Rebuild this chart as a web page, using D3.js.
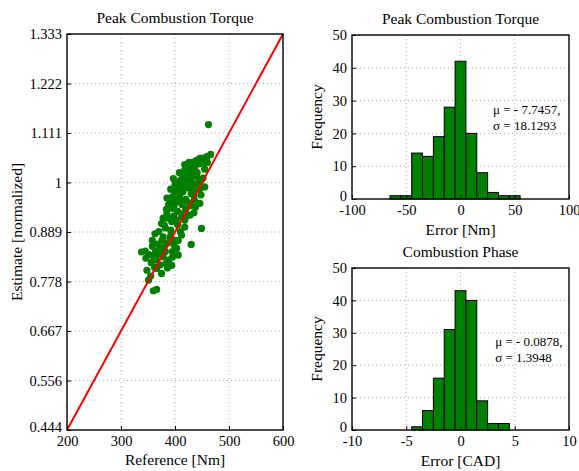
<!DOCTYPE html>
<html>
<head>
<meta charset="utf-8">
<script src="https://cdn.jsdelivr.net/npm/d3@7"></script>
<style>
  body { margin: 0; background: #fff; }
  text { font-family: "Liberation Serif", "Times New Roman", serif; fill: #000; }
  .domain { display: none; }
</style>
</head>
<body>
<div id="vis"></div>
<script>
// data
const REF_NM = [462,466,459,452,446,440,434,445,428,424,436,418,430,455,414,422,440,397,410,427,
  448,405,418,434,455,410,425,440,400,415,430,448,395,408,420,436,403,446,388,413,
  428,395,420,405,435,385,428,398,412,418,375,394,405,382,449,392,410,363,378,391,
  412,400,386,430,358,372,403,395,338,345,378,406,388,366,394,348,375,366,351,360,
  366,355,383,370,380,360,400,410,425,432,438,420,412,398,388,380,370,392,402,415,
  425,430,442,456,441,416,404,392,384,376,368,382,395,356,362,372,346,352,386,398,
  406,418,422,435,438,445,452,460,426,418,408,400,392,385,378,358,364];
const EST_NORM = [1.130,1.063,1.058,1.055,1.054,1.050,1.046,1.042,1.040,1.038,1.035,1.028,1.027,1.030,1.018,1.020,1.015,1.009,1.005,1.008,
  1.005,0.998,1.000,0.997,0.990,0.990,0.988,0.985,0.978,0.980,0.975,0.972,0.968,0.965,0.962,0.960,0.956,0.953,0.950,0.950,
  0.948,0.942,0.940,0.935,0.932,0.930,0.927,0.925,0.922,0.915,0.908,0.912,0.905,0.898,0.897,0.893,0.890,0.885,0.878,0.874,
  0.882,0.870,0.864,0.861,0.857,0.852,0.852,0.845,0.844,0.846,0.833,0.837,0.826,0.826,0.814,0.803,0.796,0.807,0.781,0.757,
  0.760,0.790,0.818,0.840,0.855,0.835,0.960,0.975,1.000,1.012,1.025,1.010,0.955,0.945,0.920,0.905,0.890,0.880,0.915,0.930,
  0.955,0.990,1.000,1.045,1.022,0.995,0.985,0.958,0.940,0.870,0.862,0.845,0.832,0.820,0.810,0.815,0.830,0.838,0.808,0.860,
  0.870,0.900,0.925,0.970,0.945,0.985,1.010,1.045,1.045,1.040,1.022,0.995,0.985,0.965,0.920,0.870,0.845];

const TORQUE_BINS = [-60,-50,-40,-30,-20,-10,0,10,20,30,40,50];
const TORQUE_COUNTS = [1,1,14,13,19,28,42,20,8,2,1,1];
const PHASE_BINS = [-4,-3,-2,-1,0,1,2,3,4];
const PHASE_COUNTS = [1,6,16,31,43,40,9,2,2];

const Y_TICKS = ["0.444","0.556","0.667","0.778","0.889","1","1.111","1.222","1.333"];
const Y_VALUES = [4/9,5/9,6/9,7/9,8/9,1,10/9,11/9,12/9];

const GREEN = "#007f00";
const FONT = "'Liberation Serif', 'Times New Roman', serif";

const SVG = d3.select("#vis").append("svg")
  .attr("width", 579).attr("height", 471);

// dotted grid
function grid(g, xs, ys, xt, yt, w, h) {
  g.selectAll(".gx").data(xt).enter().append("line")
    .attr("x1", d => xs(d)).attr("x2", d => xs(d)).attr("y1", 0).attr("y2", h)
    .attr("stroke", "#999").attr("stroke-width", 0.8).attr("stroke-dasharray", "1,3");
  g.selectAll(".gy").data(yt).enter().append("line")
    .attr("y1", d => ys(d)).attr("y2", d => ys(d)).attr("x1", 0).attr("x2", w)
    .attr("stroke", "#999").attr("stroke-width", 0.8).attr("stroke-dasharray", "1,3");
}

// inward ticks, labels and box
function axes(g, xs, ys, xt, yt, w, h, yfmt) {
  g.append("g").attr("transform", "translate(0," + h + ")")
    .call(d3.axisBottom(xs).tickValues(xt).tickFormat(d => String(d)).tickSize(-4).tickPadding(6));
  const ya = g.append("g")
    .call(d3.axisLeft(ys).tickValues(yt).tickFormat(yfmt).tickSize(-4).tickPadding(5));
  g.selectAll(".tick line").attr("stroke", "#000");
  g.selectAll(".tick text").style("font-family", FONT).style("font-size", "14.5px");
  ya.selectAll(".tick text").filter((d, i) => i === 0).attr("dy", "0.1em");
  g.append("rect").attr("width", w).attr("height", h)
    .attr("fill", "none").attr("stroke", "#000").attr("stroke-width", 1.4);
}

function label(x, y, txt, size, rot) {
  return SVG.append("text")
    .attr("transform", "translate(" + x + "," + y + ")" + (rot ? " rotate(-90)" : ""))
    .attr("text-anchor", "middle").style("font-size", size).text(txt);
}

// scatter
const S = {left: 67, top: 34, w: 216, h: 396};
const SG = SVG.append("g").attr("transform", "translate(" + S.left + "," + S.top + ")");
const SX = d3.scaleLinear().domain([200, 600]).range([0, S.w]);
const SY = d3.scaleLinear().domain([4/9, 12/9]).range([S.h, 0]);
grid(SG, SX, SY, [300,400,500], Y_VALUES.slice(1, -1), S.w, S.h);

SG.selectAll(".pt").data(REF_NM).enter().append("circle")
  .attr("cx", d => SX(d)).attr("cy", (d, i) => SY(EST_NORM[i]))
  .attr("r", 3.6).attr("fill", GREEN);

SG.append("line")
  .attr("x1", SX(200)).attr("y1", SY(200/450))
  .attr("x2", SX(600)).attr("y2", SY(600/450))
  .attr("stroke", "#ff0000").attr("stroke-width", 2);

axes(SG, SX, SY, [200,300,400,500,600], Y_VALUES, S.w, S.h, (d, i) => Y_TICKS[i]);

label(S.left + S.w / 2, 23, "Peak Combustion Torque", "15.5px");
label(S.left + S.w / 2, 465, "Reference [Nm]", "15.5px");
label(22, S.top + S.h / 2, "Estimate [normalized]", "15.5px", true);

// histograms
function histogram(box, dom, xt, bins, counts, width, title, xlabel, mu, sigma, tx) {
  const g = SVG.append("g").attr("transform", "translate(" + box.left + "," + box.top + ")");
  const x = d3.scaleLinear().domain(dom).range([0, box.w]);
  const y = d3.scaleLinear().domain([0, 50]).range([box.h, 0]);
  grid(g, x, y, xt.slice(1, -1), [10,20,30,40], box.w, box.h);
  g.selectAll(".bar").data(bins).enter().append("rect")
    .attr("x", d => x(d - width / 2)).attr("width", d => x(d + width / 2) - x(d - width / 2))
    .attr("y", (d, i) => y(counts[i])).attr("height", (d, i) => box.h - y(counts[i]))
    .attr("fill", "#008000").attr("stroke", "#000").attr("stroke-width", 1);
  axes(g, x, y, xt, [0,10,20,30,40,50], box.w, box.h, d => String(d));
  g.append("text").attr("x", x(tx)).attr("y", y(26)).style("font-size", "13px").text(mu);
  g.append("text").attr("x", x(tx)).attr("y", y(26) + 16).style("font-size", "13px").text(sigma);
  label(box.left + box.w / 2, box.top - 11, title, "15.5px");
  label(box.left + box.w / 2, box.top + box.h + 36, xlabel, "15.5px");
  label(box.left - 30, box.top + box.h / 2, "Frequency", "15.5px", true);
}

histogram({left: 352, top: 35, w: 217, h: 164}, [-100, 100], [-100,-50,0,50,100],
  TORQUE_BINS, TORQUE_COUNTS, 10, "Peak Combustion Torque", "Error [Nm]",
  "\u03bc = - 7.7457,", "\u03c3 = 18.1293", 30);
histogram({left: 352, top: 268, w: 217, h: 162}, [-10, 10], [-10,-5,0,5,10],
  PHASE_BINS, PHASE_COUNTS, 1, "Combustion Phase", "Error [CAD]",
  "\u03bc = - 0.0878,", "\u03c3 = 1.3948", 3.2);
</script>
</body>
</html>
